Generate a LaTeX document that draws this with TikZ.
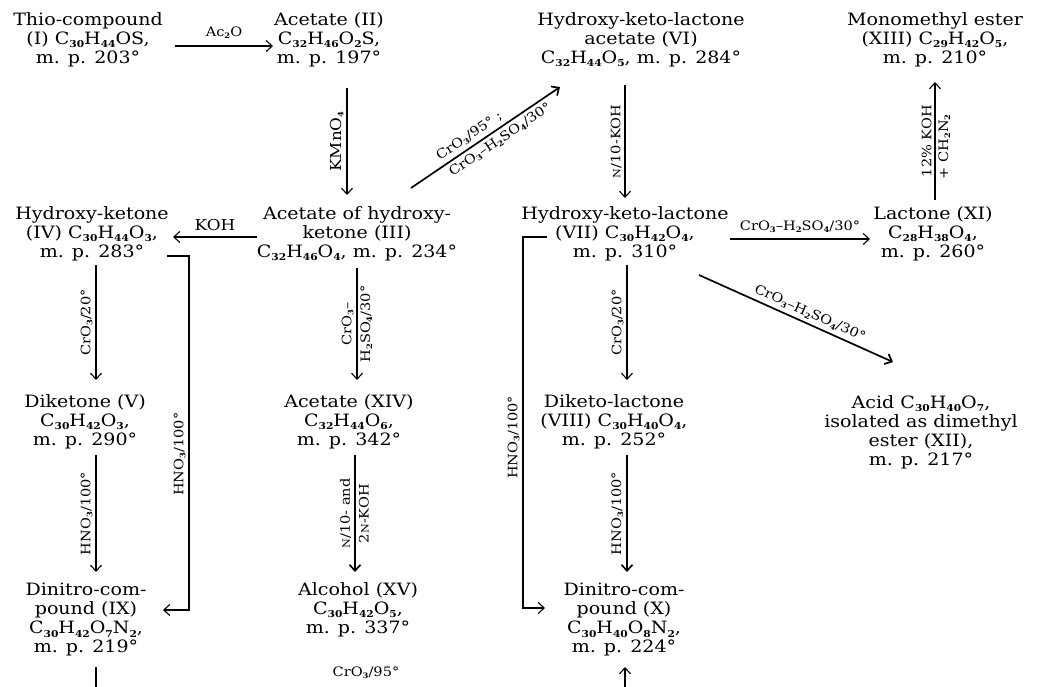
\documentclass[tikz,border=0pt]{standalone}
\usepackage{fontspec}
\setmainfont{DejaVu Serif}[FakeStretch=1.12]
\usetikzlibrary{arrows.meta}
% bold, lowered subscripts for formulae in compound names and reagents
\newcommand\sbs[1]{\raisebox{-0.35ex}{\fontsize{9.5}{9.5}\selectfont\bfseries #1}}
\newcommand\lsb[1]{\raisebox{-0.3ex}{\fontsize{7.5}{7.5}\selectfont\bfseries #1}}
\newcommand\smN{{\fontsize{10}{10}\selectfont N}}
\begin{document}
\begin{tikzpicture}[x=1pt,y=-1pt,
  cmpd/.style={align=center,font=\fontsize{17}{19}\selectfont,inner sep=0pt},
  rgt/.style={font=\fontsize{13}{15}\selectfont,inner sep=0pt},
  big/.style={font=\fontsize{15}{17}\selectfont},
  rgtl/.style={rgt,rotate=90,anchor=south,inner sep=3pt},
  rgtr/.style={rgt,rotate=90,anchor=north,inner sep=3pt},
  rgta/.style={rgt,sloped,anchor=south,inner sep=3.5pt},
  rgtb/.style={rgt,sloped,anchor=north,inner sep=3.5pt},
  rxn/.style={-{Straight Barb[length=6pt,width=11pt]},line width=1.1pt},
  heavy/.style={line width=1.7pt},
]
\useasboundingbox (0,0) rectangle (1043,687);

% compounds
\node[cmpd] (I)    at (88,40)   {Thio-compound\\(I) C\sbs{30}H\sbs{44}OS,\\m. p. 203°};
\node[cmpd] (II)   at (329,40)  {Acetate (II)\\C\sbs{32}H\sbs{46}O\sbs{2}S,\\m. p. 197°};
\node[cmpd] (VI)   at (641,40)  {Hydroxy-keto-lactone\\acetate (VI)\\C\sbs{32}H\sbs{44}O\sbs{5}, m. p. 284°};
\node[cmpd] (XIII) at (935,40)  {Monomethyl ester\\(XIII) C\sbs{29}H\sbs{42}O\sbs{5},\\m. p. 210°};
\node[cmpd] (IV)   at (92,234)  {Hydroxy-ketone\\(IV) C\sbs{30}H\sbs{44}O\sbs{3},\\m. p. 283°};
\node[cmpd] (III)  at (357,234) {Acetate of hydroxy-\\ketone (III)\\C\sbs{32}H\sbs{46}O\sbs{4}, m. p. 234°};
\node[cmpd] (VII)  at (625,234) {Hydroxy-keto-lactone\\(VII) C\sbs{30}H\sbs{42}O\sbs{4},\\m. p. 310°};
\node[cmpd] (XI)   at (933,234) {Lactone (XI)\\C\sbs{28}H\sbs{38}O\sbs{4},\\m. p. 260°};
\node[cmpd] (V)    at (85,422)  {Diketone (V)\\C\sbs{30}H\sbs{42}O\sbs{3},\\m. p. 290°};
\node[cmpd] (XIV)  at (349,422) {Acetate (XIV)\\C\sbs{32}H\sbs{44}O\sbs{6},\\m. p. 342°};
\node[cmpd] (VIII) at (614,422) {Diketo-lactone\\(VIII) C\sbs{30}H\sbs{40}O\sbs{4},\\m. p. 252°};
\node[cmpd] (XII)  at (921,432) {Acid C\sbs{30}H\sbs{40}O\sbs{7},\\isolated as dimethyl\\ester (XII),\\m. p. 217°};
\node[cmpd] (IX)   at (86,620)  {Dinitro-com-\\pound (IX)\\C\sbs{30}H\sbs{42}O\sbs{7}N\sbs{2},\\m. p. 219°};
\node[cmpd] (XV)   at (358,610) {Alcohol (XV)\\C\sbs{30}H\sbs{42}O\sbs{5},\\m. p. 337°};
\node[cmpd] (X)    at (624,620) {Dinitro-com-\\pound (X)\\C\sbs{30}H\sbs{40}O\sbs{8}N\sbs{2},\\m. p. 224°};
\node[rgt]  (cr95) at (366,673) {CrO\lsb{3}/95°};

% guide lines for the two long nitration routes and the lower edge
\coordinate (cH1) at (189,0);
\coordinate (cH2) at (523,0);
\coordinate (rC)  at (0,610);
\coordinate (rD)  at (0,608);
\coordinate (bot) at (0,687);

% top row
\draw[rxn] ([shift={(87,6)}]I.center) -- node[rgt,above=7pt]{Ac\lsb{2}O} ([shift={(-56,6)}]II.center);
\draw[rxn] ([shift={(18,48)}]II.center) -- node[rgtl,big]{KMnO\lsb{4}} ([shift={(-10,-39)}]III.center);
\draw[rxn,heavy] ([shift={(54,-46)}]III.center)
  -- node[rgta,pos=0.43]{CrO\lsb{3}/95° ;}
     node[rgtb,pos=0.56]{CrO\lsb{3}--H\lsb{2}SO\lsb{4}/30°}
  ([shift={(-81,47)}]VI.center);
\draw[rxn] ([shift={(-16,45)}]VI.center) -- node[rgtl]{\smN/10-KOH} ([shift={(0,-36)}]VII.center);
\draw[rxn] ([shift={(2,-34)}]XI.center)
  -- node[rgtl]{12\% KOH} node[rgtr,pos=0.45]{+ CH\lsb{2}N\lsb{2}}
  ([shift={(0,42)}]XIII.center);

% second row
\draw[rxn] ([shift={(-100,3)}]III.center) -- node[rgt,big,above=6pt]{KOH} ([shift={(81,3)}]IV.center);
\draw[rxn] ([shift={(105,5)}]VII.center) -- node[rgt,above=6pt]{CrO\lsb{3}--H\lsb{2}SO\lsb{4}/30°} ([shift={(-63,5)}]XI.center);
\draw[rxn,heavy] ([shift={(74,41)}]VII.center)
  -- node[rgta,pos=0.55]{CrO\lsb{3}--H\lsb{2}SO\lsb{4}/30°}
  ([shift={(-28,-70)}]XII.center);

% oxidations downwards
\draw[rxn] ([shift={(4,31)}]IV.center) -- node[rgtl]{CrO\lsb{3}/20°} ([shift={(11,-42)}]V.center);
\draw[rxn] ([shift={(0,34)}]III.center)
  -- node[rgtl]{CrO\lsb{3}--} node[rgtr]{H\lsb{2}SO\lsb{4}/30°}
  ([shift={(8,-42)}]XIV.center);
\draw[rxn] ([shift={(2,31)}]VII.center) -- node[rgtl]{CrO\lsb{3}/20°} ([shift={(13,-42)}]VIII.center);

% nitrations
\draw[rxn] ([shift={(75,22)}]IV.center) -| node[rgtl,pos=0.78]{HNO\lsb{3}/100°} (cH1 |- rC)
  -- ([shift={(77,-10)}]IX.center);
\draw[rxn] ([shift={(-78,3)}]VII.center) -| node[rgtl,pos=0.77]{HNO\lsb{3}/100°} (cH2 |- rD)
  -- ([shift={(-79,-12)}]X.center);
\draw[rxn] ([shift={(11,33)}]V.center) -- node[rgtl]{HNO\lsb{3}/100°} ([shift={(10,-48)}]IX.center);
\draw[rxn,heavy] ([shift={(6,33)}]XIV.center)
  -- node[rgtl]{\smN/10- and} node[rgtr]{2\smN-KOH}
  ([shift={(-3,-38)}]XV.center);
\draw[rxn,heavy] ([shift={(13,33)}]VIII.center) -- node[rgtl]{HNO\lsb{3}/100°} ([shift={(3,-48)}]X.center);

% routes continuing below the lower edge
\draw[line width=1.1pt] ([shift={(10,47)}]IX.center) coordinate (ixd) -- (ixd |- bot);
\coordinate (xu) at ([shift={(1,47)}]X.center);
\draw[rxn] (xu |- bot) -- (xu);
\end{tikzpicture}
\end{document}
